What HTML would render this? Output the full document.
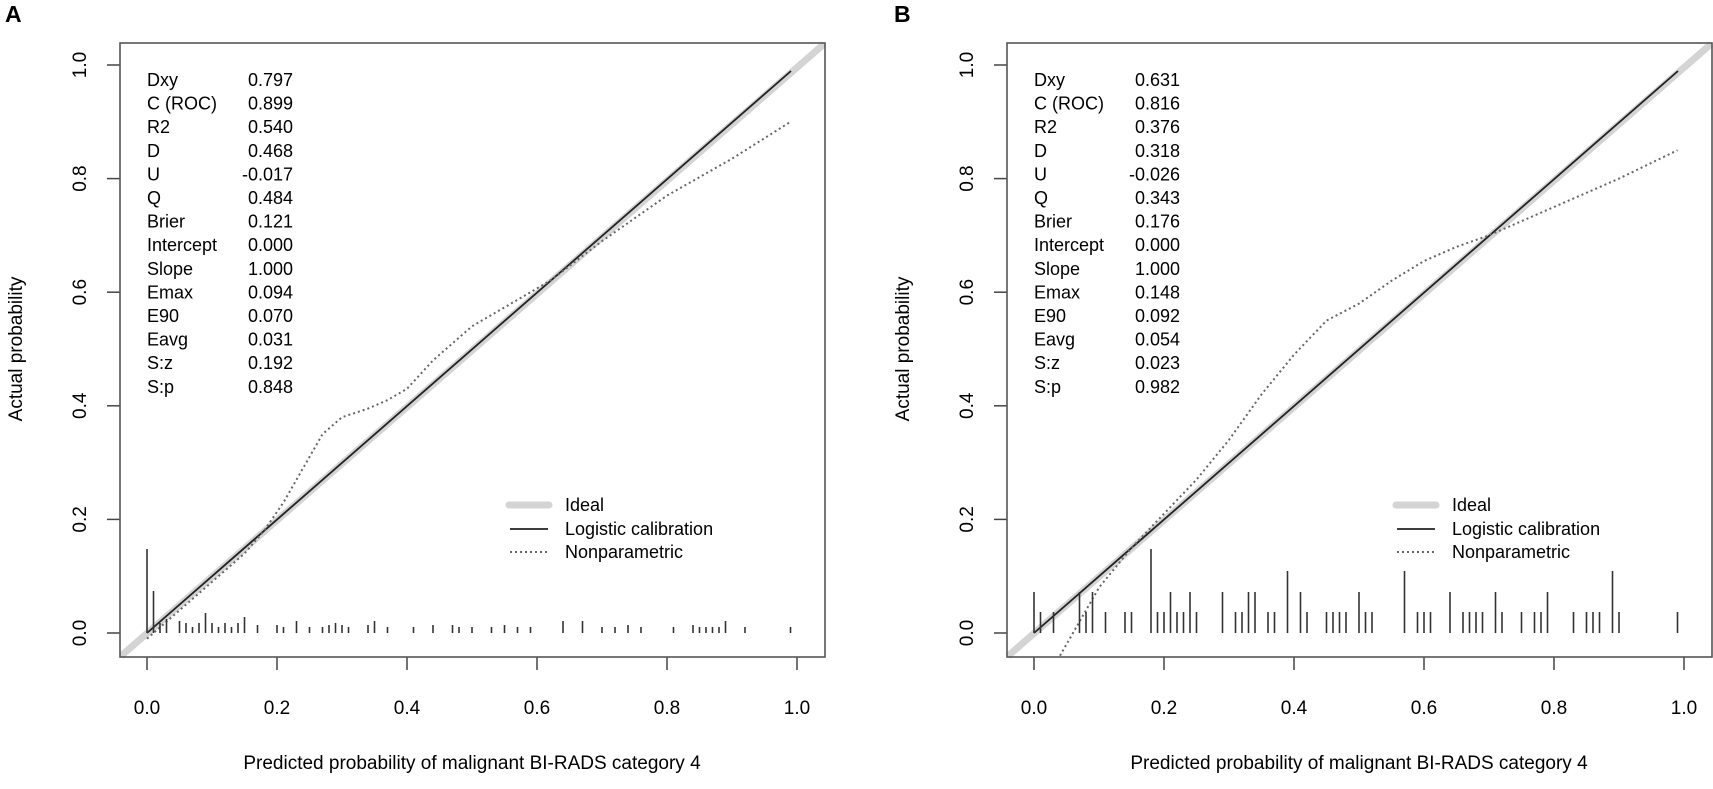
<!DOCTYPE html>
<html><head><meta charset="utf-8"><style>
body{margin:0;background:#fff;}
svg{display:block;font-family:"Liberation Sans",Arial,sans-serif;}
</style></head><body>
<svg id="s" width="1713" height="789" viewBox="0 0 1713 789" xmlns="http://www.w3.org/2000/svg">
<rect width="1713" height="789" fill="#fff"/>
<text x="5" y="22" font-size="23" font-weight="bold">A</text>
<text x="894" y="22" font-size="23" font-weight="bold">B</text>

<g id="pA">
<text x="22" y="349" font-size="19" text-anchor="middle" transform="rotate(-90 22 349)">Actual probability</text>
<text x="472" y="769" font-size="19" text-anchor="middle">Predicted probability of malignant BI-RADS category 4</text>
<g font-size="19" text-anchor="middle">
<text x="147" y="714">0.0</text><text x="277" y="714">0.2</text><text x="407" y="714">0.4</text><text x="537" y="714">0.6</text><text x="667" y="714">0.8</text><text x="797" y="714">1.0</text>
<text transform="translate(86 633) rotate(-90)">0.0</text>
<text transform="translate(86 519.4) rotate(-90)">0.2</text>
<text transform="translate(86 405.8) rotate(-90)">0.4</text>
<text transform="translate(86 292.2) rotate(-90)">0.6</text>
<text transform="translate(86 178.6) rotate(-90)">0.8</text>
<text transform="translate(86 65) rotate(-90)">1.0</text>
</g>
<g stroke="#444" stroke-width="1.5">
<line x1="147" y1="657" x2="147" y2="670"/><line x1="277" y1="657" x2="277" y2="670"/><line x1="407" y1="657" x2="407" y2="670"/><line x1="537" y1="657" x2="537" y2="670"/><line x1="667" y1="657" x2="667" y2="670"/><line x1="797" y1="657" x2="797" y2="670"/>
<line x1="107" y1="633" x2="120" y2="633"/><line x1="107" y1="519.4" x2="120" y2="519.4"/><line x1="107" y1="405.8" x2="120" y2="405.8"/><line x1="107" y1="292.2" x2="120" y2="292.2"/><line x1="107" y1="178.6" x2="120" y2="178.6"/><line x1="107" y1="65" x2="120" y2="65"/>
</g>
<line x1="121" y1="656" x2="824" y2="44" stroke="#d4d4d4" stroke-width="7"/>
<line x1="147" y1="633" x2="791" y2="71" stroke="#222" stroke-width="1.8"/>
<polyline id="npA" fill="none" stroke="#666" stroke-width="2" stroke-dasharray="2,3"/>
<g id="rugA" stroke="#333" stroke-width="1.6"></g>
<rect x="120" y="43" width="705" height="614" fill="none" stroke="#555" stroke-width="1.6"/>
<g font-size="18">
<text x="147" y="86">Dxy</text><text x="147" y="109.6">C (ROC)</text><text x="147" y="133.2">R2</text><text x="147" y="156.8">D</text><text x="147" y="180.4">U</text><text x="147" y="204">Q</text><text x="147" y="227.6">Brier</text><text x="147" y="251.2">Intercept</text><text x="147" y="274.8">Slope</text><text x="147" y="298.4">Emax</text><text x="147" y="322">E90</text><text x="147" y="345.6">Eavg</text><text x="147" y="369.2">S:z</text><text x="147" y="392.8">S:p</text>
</g>
<g font-size="18" text-anchor="end">
<text x="293" y="86">0.797</text><text x="293" y="109.6">0.899</text><text x="293" y="133.2">0.540</text><text x="293" y="156.8">0.468</text><text x="293" y="180.4">-0.017</text><text x="293" y="204">0.484</text><text x="293" y="227.6">0.121</text><text x="293" y="251.2">0.000</text><text x="293" y="274.8">1.000</text><text x="293" y="298.4">0.094</text><text x="293" y="322">0.070</text><text x="293" y="345.6">0.031</text><text x="293" y="369.2">0.192</text><text x="293" y="392.8">0.848</text>
</g>
<line x1="509" y1="505" x2="549" y2="505" stroke="#d4d4d4" stroke-width="7" stroke-linecap="round"/>
<line x1="510" y1="529" x2="548" y2="529" stroke="#222" stroke-width="1.8"/>
<line x1="510" y1="552" x2="548" y2="552" stroke="#666" stroke-width="2" stroke-dasharray="2,3"/>
<g font-size="18"><text x="565" y="511">Ideal</text><text x="565" y="535">Logistic calibration</text><text x="565" y="558">Nonparametric</text></g>
</g>

<g id="pB" transform="translate(887 0)">
<text x="22" y="349" font-size="19" text-anchor="middle" transform="rotate(-90 22 349)">Actual probability</text>
<text x="472" y="769" font-size="19" text-anchor="middle">Predicted probability of malignant BI-RADS category 4</text>
<g font-size="19" text-anchor="middle">
<text x="147" y="714">0.0</text><text x="277" y="714">0.2</text><text x="407" y="714">0.4</text><text x="537" y="714">0.6</text><text x="667" y="714">0.8</text><text x="797" y="714">1.0</text>
<text transform="translate(86 633) rotate(-90)">0.0</text>
<text transform="translate(86 519.4) rotate(-90)">0.2</text>
<text transform="translate(86 405.8) rotate(-90)">0.4</text>
<text transform="translate(86 292.2) rotate(-90)">0.6</text>
<text transform="translate(86 178.6) rotate(-90)">0.8</text>
<text transform="translate(86 65) rotate(-90)">1.0</text>
</g>
<g stroke="#444" stroke-width="1.5">
<line x1="147" y1="657" x2="147" y2="670"/><line x1="277" y1="657" x2="277" y2="670"/><line x1="407" y1="657" x2="407" y2="670"/><line x1="537" y1="657" x2="537" y2="670"/><line x1="667" y1="657" x2="667" y2="670"/><line x1="797" y1="657" x2="797" y2="670"/>
<line x1="107" y1="633" x2="120" y2="633"/><line x1="107" y1="519.4" x2="120" y2="519.4"/><line x1="107" y1="405.8" x2="120" y2="405.8"/><line x1="107" y1="292.2" x2="120" y2="292.2"/><line x1="107" y1="178.6" x2="120" y2="178.6"/><line x1="107" y1="65" x2="120" y2="65"/>
</g>
<line x1="121" y1="656" x2="824" y2="44" stroke="#d4d4d4" stroke-width="7"/>
<line x1="147" y1="633" x2="791" y2="71" stroke="#222" stroke-width="1.8"/>
<polyline id="npB" fill="none" stroke="#666" stroke-width="2" stroke-dasharray="2,3"/>
<g id="rugB" stroke="#333" stroke-width="1.6"></g>
<rect x="120" y="43" width="705" height="614" fill="none" stroke="#555" stroke-width="1.6"/>
<g font-size="18">
<text x="147" y="86">Dxy</text><text x="147" y="109.6">C (ROC)</text><text x="147" y="133.2">R2</text><text x="147" y="156.8">D</text><text x="147" y="180.4">U</text><text x="147" y="204">Q</text><text x="147" y="227.6">Brier</text><text x="147" y="251.2">Intercept</text><text x="147" y="274.8">Slope</text><text x="147" y="298.4">Emax</text><text x="147" y="322">E90</text><text x="147" y="345.6">Eavg</text><text x="147" y="369.2">S:z</text><text x="147" y="392.8">S:p</text>
</g>
<g font-size="18" text-anchor="end">
<text x="293" y="86">0.631</text><text x="293" y="109.6">0.816</text><text x="293" y="133.2">0.376</text><text x="293" y="156.8">0.318</text><text x="293" y="180.4">-0.026</text><text x="293" y="204">0.343</text><text x="293" y="227.6">0.176</text><text x="293" y="251.2">0.000</text><text x="293" y="274.8">1.000</text><text x="293" y="298.4">0.148</text><text x="293" y="322">0.092</text><text x="293" y="345.6">0.054</text><text x="293" y="369.2">0.023</text><text x="293" y="392.8">0.982</text>
</g>
<line x1="509" y1="505" x2="549" y2="505" stroke="#d4d4d4" stroke-width="7" stroke-linecap="round"/>
<line x1="510" y1="529" x2="548" y2="529" stroke="#222" stroke-width="1.8"/>
<line x1="510" y1="552" x2="548" y2="552" stroke="#666" stroke-width="2" stroke-dasharray="2,3"/>
<g font-size="18"><text x="565" y="511">Ideal</text><text x="565" y="535">Logistic calibration</text><text x="565" y="558">Nonparametric</text></g>
</g>
</svg>
<script>
function X(x){return 147+650*x} function Y(y){return 633-568*y}
function pts(a){return a.map(p=>X(p[0]).toFixed(1)+","+Y(p[1]).toFixed(1)).join(" ")}
document.getElementById("npA").setAttribute("points",pts([[0,-0.01],[0.05,0.04],[0.1,0.09],[0.15,0.14],[0.18,0.18],[0.21,0.23],[0.24,0.29],[0.27,0.35],[0.3,0.38],[0.34,0.395],[0.37,0.41],[0.4,0.43],[0.44,0.48],[0.5,0.54],[0.56,0.58],[0.62,0.62],[0.7,0.69],[0.8,0.77],[0.9,0.835],[0.99,0.9]]));
document.getElementById("npB").setAttribute("points",pts([[0.04,-0.04],[0.07,0.02],[0.1,0.08],[0.15,0.15],[0.2,0.21],[0.25,0.27],[0.3,0.34],[0.35,0.42],[0.4,0.49],[0.45,0.55],[0.5,0.58],[0.55,0.62],[0.6,0.655],[0.65,0.68],[0.7,0.70],[0.8,0.75],[0.9,0.80],[0.99,0.85]]));
var ns="http://www.w3.org/2000/svg";
function rug(id,a){var g=document.getElementById(id);a.forEach(function(p){var l=document.createElementNS(ns,"line");l.setAttribute("x1",X(p[0]));l.setAttribute("x2",X(p[0]));l.setAttribute("y1",633);l.setAttribute("y2",633-p[1]);g.appendChild(l);});}
rug("rugA",[[0,84],[0.01,42],[0.02,10],[0.03,14],[0.05,12],[0.06,10],[0.07,6],[0.08,10],[0.09,20],[0.1,10],[0.11,6],[0.12,10],[0.13,6],[0.14,10],[0.15,16],[0.17,8],[0.2,8],[0.21,6],[0.23,12],[0.25,6],[0.27,6],[0.28,8],[0.29,10],[0.3,8],[0.31,6],[0.34,8],[0.35,12],[0.37,6],[0.41,6],[0.44,8],[0.47,8],[0.48,6],[0.5,6],[0.53,6],[0.55,8],[0.57,6],[0.59,6],[0.64,12],[0.67,12],[0.7,6],[0.72,6],[0.74,8],[0.76,6],[0.81,6],[0.84,8],[0.85,6],[0.86,6],[0.87,6],[0.88,6],[0.89,12],[0.92,6],[0.99,6]]);
var B=[[0,41],[0.01,21],[0.03,21],[0.07,41],[0.08,21],[0.09,41],[0.11,21],[0.14,21],[0.15,21],[0.18,84],[0.19,21],[0.2,21],[0.21,41],[0.22,21],[0.23,21],[0.24,41],[0.25,21],[0.29,41],[0.31,21],[0.32,21],[0.33,41],[0.34,41],[0.36,21],[0.37,21],[0.39,62],[0.41,41],[0.42,21],[0.45,21],[0.46,21],[0.47,21],[0.48,21],[0.5,41],[0.51,21],[0.52,21],[0.57,62],[0.59,21],[0.6,21],[0.61,21],[0.64,41],[0.66,21],[0.67,21],[0.68,21],[0.69,21],[0.71,41],[0.72,21],[0.75,21],[0.77,21],[0.78,21],[0.79,41],[0.83,21],[0.85,21],[0.86,21],[0.87,21],[0.89,62],[0.9,21],[0.99,21]];
rug("rugB",B);
</script>
</body></html>
